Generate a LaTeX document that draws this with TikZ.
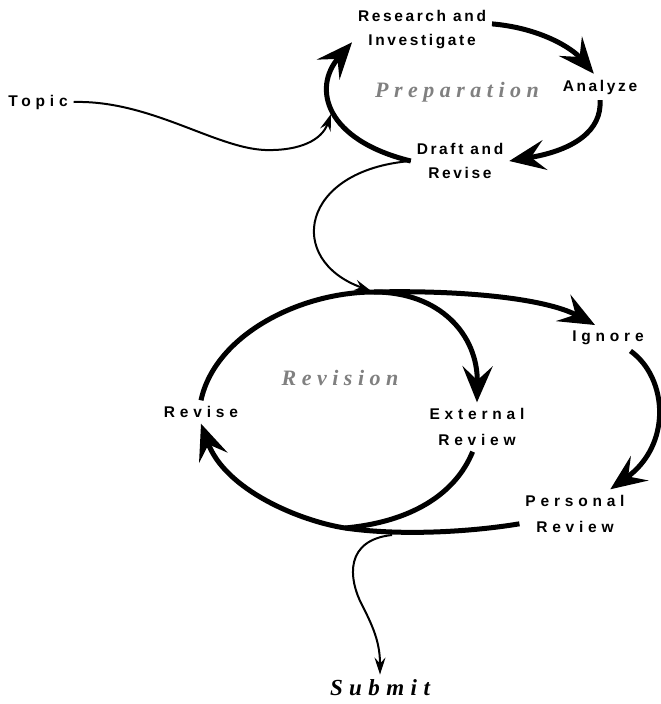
\documentclass[tikz,border=0pt]{standalone}
\usepackage{fontspec}
\usetikzlibrary{arrows.meta}
\setmainfont{Liberation Serif}
\newfontfamily\prepfont[LetterSpace=17]{Liberation Sans}
\newfontfamily\revfont[LetterSpace=31]{Liberation Sans}
\newfontfamily\phasefont[LetterSpace=25]{Liberation Serif}

\begin{document}
\begin{tikzpicture}[
    x=1pt, y=-1pt,
    prepstep/.style={font={\prepfont\bfseries\fontsize{15.5}{24}\selectfont}, align=center, inner sep=2pt, outer sep=4pt},
    revstep/.style={font={\revfont\bfseries\fontsize{15.5}{26}\selectfont}, align=center, inner sep=2pt, outer sep=4pt},
    phase/.style={font={\phasefont\bfseries\itshape\fontsize{22}{24}\selectfont}, text=black!50},
    bigarrow/.style={-{Stealth[length=36pt, width=30pt, inset=14pt]}, line width=5pt},
    thinarrow/.style={-{Stealth[length=17pt, width=11pt, inset=6pt]}, line width=2pt}
]
\useasboundingbox (0,0) rectangle (661,704);

% Preparation cycle
\node[revstep] (topic) at (38,102) {Topic};
\node[prepstep] (research) at (422,30) {Research and\\Investigate};
\node[prepstep] (analyze) at (600,87) {Analyze};
\node[prepstep] (draft) at (460,161) {Draft and\\Revise};
\node[phase] (prep) at (457,92) {Preparation};

% Revision cycle
\node[revstep] (revise) at (201,412) {Revise};
\node[revstep] (external) at (477,427) {External\\Review};
\node[revstep] (ignore) at (608,338) {Ignore};
\node[revstep] (personal) at (575,514) {Personal\\Review};
\node[phase] (revision) at (340,378) {Revision};
\node[phase, text=black, font={\phasefont\bfseries\itshape\fontsize{23}{24}\selectfont\addfontfeature{LetterSpace=28}}, outer sep=2pt] (submit) at (380,688) {Submit};

% Junction points
\coordinate (prepin) at (331,114);
\coordinate (split) at (374,292);
\coordinate (merge) at (345,528);
\coordinate (exit) at (392,535);

% Preparation flow
\draw[bigarrow] (research.5) .. controls (540,28) and (572,48) .. (analyze.115);
\draw[bigarrow] (analyze.south) .. controls (602,130) and (575,150) .. (draft.east);
\draw[bigarrow] (draft.west) .. controls (325,140) and (312,88) .. (research.190);
\draw[thinarrow] (topic.east) .. controls (150,100) and (215,148) .. (265,150)
    .. controls (300,151) and (322,140) .. (prepin);

% Into revision
\draw[thinarrow, shorten >=3pt] (draft.west) .. controls (300,170) and (285,260) .. (split);

% Revision flow
\draw[bigarrow] (revise.north) .. controls (215,335) and (300,292) .. (split)
    .. controls (440,292) and (478,335) .. (external.north);
\draw[bigarrow] (split) .. controls (460,290) and (545,298) .. (ignore.135);
\draw[bigarrow] (ignore.-30) .. controls (668,378) and (672,445) .. (personal.35);
\draw[bigarrow] (personal.190) .. controls (470,532) and (400,536) .. (merge)
    .. controls (300,521) and (225,490) .. (revise.south);
\draw[line width=5pt] (external.-100) .. controls (455,495) and (410,522) .. (merge);

% Out to submission
\draw[thinarrow] (exit) .. controls (345,540) and (348,578) .. (362,605)
    .. controls (375,630) and (380,645) .. (submit.north);

\end{tikzpicture}
\end{document}
